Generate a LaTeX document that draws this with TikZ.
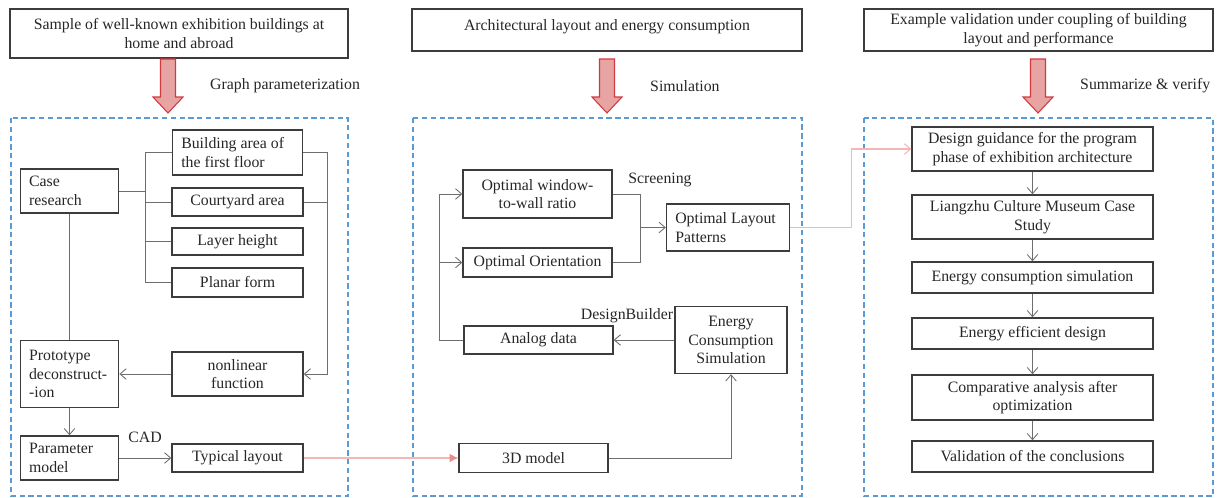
\documentclass[tikz,border=0pt]{standalone}
\usepackage{fontspec}
\setmainfont{Liberation Serif}
\usetikzlibrary{arrows.meta}
\definecolor{boxc}{RGB}{60,60,60}
\definecolor{linec}{RGB}{110,110,110}
\definecolor{dashc}{RGB}{91,155,213}
\definecolor{pinkc}{RGB}{244,182,182}
\definecolor{pinktip}{RGB}{232,140,140}
\definecolor{redfill}{RGB}{232,163,163}
\definecolor{redline}{RGB}{208,57,62}
\begin{document}
\begin{tikzpicture}[x=0.02cm,y=-0.02cm,
  every node/.style={font=\fontsize{9}{10.6}\selectfont, text=black!85},
  box/.style={draw=boxc, line width=0.8pt, inner sep=0pt, align=center},
  lbox/.style={box, align=flush left, inner xsep=5pt},
  conn/.style={draw=linec, line width=0.5pt},
  >={Straight Barb[length=3.5pt,width=6pt]},
  panel/.style={draw=dashc, line width=0.75pt, dash pattern=on 3pt off 2pt},
  pinkline/.style={draw=pinkc, line width=0.6pt},
  bigarrow/.style={draw=redline, fill=redfill, line width=0.6pt}]
\useasboundingbox (0,0) rectangle (1222,497);
% headers
\node[box, minimum width=6.76cm, minimum height=0.98cm] (head1) at (179,33.5) {Sample of well-known exhibition buildings at\\home and abroad};
\node[box, minimum width=7.8cm, minimum height=0.84cm, text depth=0.55em] (head2) at (607,30) {Architectural layout and energy consumption};
\node[box, minimum width=6.98cm, minimum height=0.84cm] (head3) at (1038.5,30) {Example validation under coupling of building\\layout and performance};
% big arrows
\foreach \x in {168,607,1038}
  \draw[bigarrow] (\x-7.5,59) -- (\x+7.5,59) -- (\x+7.5,97) -- (\x+15,97) -- (\x,113) -- (\x-15,97) -- (\x-7.5,97) -- cycle;
\node[anchor=west] (lab1) at (204,86) {Graph parameterization};
\node[anchor=west] (lab2) at (644,86) {Simulation};
\node[anchor=west] (lab3) at (1074,86) {Summarize \& verify};
% panels
\draw[panel] (11,118) rectangle (348,496);
\draw[panel] (413,118) rectangle (802,496);
\draw[panel] (864,118) rectangle (1213,496);
% panel 1
\node[lbox, text width=46pt, minimum height=0.88cm] (case) at (69.5,191) {Case\\research};
\node[lbox, text width=64pt, minimum height=0.9cm] (bfloor) at (237.5,152.5) {Building area of\\the first floor};
\node[box, minimum width=2.62cm, minimum height=0.56cm] (court) at (237.5,202) {Courtyard area};
\node[box, minimum width=2.62cm, minimum height=0.54cm] (layer) at (237.5,241.5) {Layer height};
\node[box, minimum width=2.62cm, minimum height=0.58cm] (planar) at (237.5,282.5) {Planar form};
\node[lbox, text width=46pt, minimum height=1.34cm] (proto) at (69.5,374) {Prototype\\deconstruct-\\-ion};
\node[box, minimum width=2.62cm, minimum height=0.88cm] (nonlin) at (237.5,374) {nonlinear\\function};
\node[lbox, text width=46pt, minimum height=0.88cm] (param) at (69.5,458) {Parameter\\model};
\node[box, minimum width=2.62cm, minimum height=0.56cm] (typical) at (237.5,458) {Typical layout};
\node (cad) at (145,437) {CAD};
\draw[conn] (case.east) -- ++(27,0);
\draw[conn] (bfloor.west) -- ++(-26,0) |- (planar.west);
\draw[conn] (court.west) -- ++(-26,0);
\draw[conn] (layer.west) -- ++(-26,0);
\draw[conn,->] (bfloor.east) -- ++(24,0) |- (nonlin.east);
\draw[conn] (court.east) -- ++(24,0);
\draw[conn] (case.south) -- (proto.north);
\draw[conn,->] (nonlin.west) -- (proto.east);
\draw[conn,->] (proto.south) -- (param.north);
\draw[conn,->] (param.east) -- (typical.west);
% panel 2
\node[box, minimum width=2.98cm, minimum height=0.96cm] (wwr) at (537.5,194) {Optimal window-\\to-wall ratio};
\node[box, minimum width=2.98cm, minimum height=0.58cm] (orient) at (537.5,262.5) {Optimal Orientation};
\node[box, minimum width=2.98cm, minimum height=0.56cm] (analog) at (538.5,340) {Analog data};
\node[lbox, text width=60pt, minimum height=0.94cm] (layout) at (728,227.5) {Optimal Layout\\Patterns};
\node[box, minimum width=2.24cm, minimum height=1.34cm] (ecs) at (731,340) {Energy\\Consumption\\Simulation};
\node[box, minimum width=2.98cm, minimum height=0.58cm] (model) at (533.5,458) {3D model};
\node (screen) at (660,180) {Screening};
\node (dbuild) at (627,316) {DesignBuilder};
\coordinate (rail) at (440,262.5);
\coordinate (join) at (640,227.5);
\draw[conn,->] (analog.west) -- ++(-24,0) |- (wwr.west);
\draw[conn,->] (rail) -- (orient.west);
\draw[conn] (wwr.east) -- ++(28,0) |- (orient.east);
\draw[conn,->] (join) -- (layout.west);
\draw[conn,->] (ecs.west) -- (analog.east);
\draw[conn,->] (model.east) -| (ecs.south);
% panel 3
\node[box, minimum width=4.82cm, minimum height=0.88cm] (guide) at (1032.5,149) {Design guidance for the program\\phase of exhibition architecture};
\node[box, minimum width=4.82cm, minimum height=0.88cm] (case2) at (1032.5,217) {Liangzhu Culture Museum Case\\Study};
\node[box, minimum width=4.82cm, minimum height=0.62cm] (esim) at (1032.5,277.5) {Energy consumption simulation};
\node[box, minimum width=4.82cm, minimum height=0.62cm] (eeff) at (1032.5,333.5) {Energy efficient design};
\node[box, minimum width=4.82cm, minimum height=0.9cm] (comp) at (1032.5,397.5) {Comparative analysis after\\optimization};
\node[box, minimum width=4.82cm, minimum height=0.62cm] (valid) at (1032.5,456.5) {Validation of the conclusions};
\draw[conn,->] (guide) -- (case2);
\draw[conn,->] (case2) -- (esim);
\draw[conn,->] (esim) -- (eeff);
\draw[conn,->] (eeff) -- (comp);
\draw[conn,->] (comp) -- (valid);
% links between panels
\draw[pinkline,-{Latex[length=5pt,width=5pt,color=pinktip,fill=pinktip]}] (typical.east) -- (model.west);
\draw[pinkline,->] (layout.east) -- ++(61,0) |- (guide.west);
\end{tikzpicture}
\end{document}
